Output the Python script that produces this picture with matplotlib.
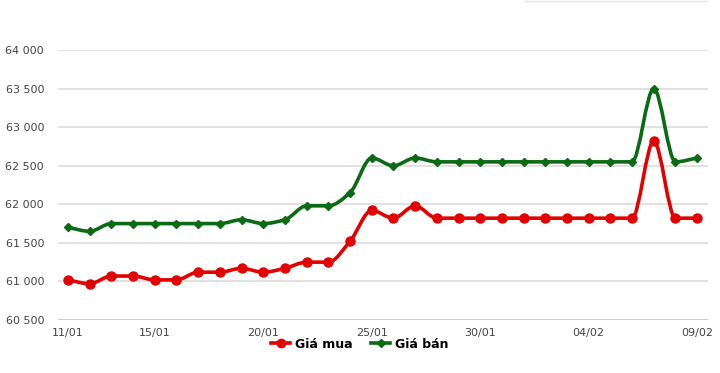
import numpy as np
import matplotlib
matplotlib.use("Agg")
import matplotlib.pyplot as plt
from matplotlib.path import Path
from matplotlib.patches import PathPatch
from matplotlib.lines import Line2D

dates = ["11/01", "12/01", "13/01", "14/01", "15/01", "16/01", "17/01", "18/01", "19/01", "20/01",
         "21/01", "22/01", "23/01", "24/01", "25/01", "26/01", "27/01", "28/01", "29/01", "30/01",
         "31/01", "01/02", "02/02", "03/02", "04/02", "05/02", "06/02", "07/02", "08/02", "09/02"]
gia_mua = [61020, 60970, 61070, 61070, 61020, 61020, 61120, 61120, 61170, 61120,
           61170, 61250, 61250, 61520, 61920, 61820, 61980, 61820, 61820, 61820,
           61820, 61820, 61820, 61820, 61820, 61820, 61820, 62820, 61820, 61820]
gia_ban = [61700, 61650, 61750, 61750, 61750, 61750, 61750, 61750, 61800, 61750,
           61800, 61980, 61980, 62150, 62600, 62500, 62600, 62550, 62550, 62550,
           62550, 62550, 62550, 62550, 62550, 62550, 62550, 63500, 62550, 62600]
tick_labels = ["11/01", "15/01", "20/01", "25/01", "30/01", "04/02", "09/02"]
yticks = [60500, 61000, 61500, 62000, 62500, 63000, 63500, 64000]

RED = "#e30000"
GREEN = "#0a6b14"

fig = plt.figure(figsize=(7.2, 3.73), dpi=100)
ax = fig.add_axes([58/720, 1 - 320/373, (708-58)/720, (320-50)/373])
x = np.arange(len(dates), dtype=float)
ax.set_xlim(-0.46, len(dates) - 1 + 0.5)
ax.set_ylim(60500, 64000)


def smooth_path(xs, ys):
    # monotone cubic (Fritsch-Carlson) tangents -> cubic Bezier path
    xs = np.asarray(xs, float)
    ys = np.asarray(ys, float)
    n = len(xs)
    h = np.diff(xs)
    d = np.diff(ys) / h
    m = np.zeros(n)
    m[0] = d[0]
    m[-1] = d[-1]
    for i in range(1, n - 1):
        if d[i - 1] * d[i] <= 0:
            m[i] = 0.0
        else:
            w1 = 2 * h[i] + h[i - 1]
            w2 = h[i] + 2 * h[i - 1]
            m[i] = (w1 + w2) / (w1 / d[i - 1] + w2 / d[i])
    verts = [(xs[0], ys[0])]
    codes = [Path.MOVETO]
    for i in range(n - 1):
        verts += [(xs[i] + h[i] / 3, ys[i] + m[i] * h[i] / 3),
                  (xs[i + 1] - h[i] / 3, ys[i + 1] - m[i + 1] * h[i] / 3),
                  (xs[i + 1], ys[i + 1])]
        codes += [Path.CURVE4] * 3
    return Path(verts, codes)


for a in ax.spines.values():
    a.set_visible(False)
ax.set_yticks(yticks)
ax.grid(axis="y", color="#dcdcdc", linewidth=1.2)
ax.set_axisbelow(True)
ax.axhline(60500, color="#c0c8d4", linewidth=1.2, zorder=1)
ax.set_yticklabels([f"{v:,}".replace(",", " ") for v in yticks], fontsize=8, color="#444444")
ax.tick_params(axis="y", length=0, pad=10)
ax.set_xticks([dates.index(t) for t in tick_labels])
ax.set_xticklabels(tick_labels, fontsize=8, color="#444444")
ax.tick_params(axis="x", length=0, pad=6)

ax.add_patch(PathPatch(smooth_path(x, gia_mua), facecolor="none", edgecolor=RED, lw=2.6,
                       zorder=3, capstyle="round", joinstyle="round"))
ax.add_patch(PathPatch(smooth_path(x, gia_ban), facecolor="none", edgecolor=GREEN, lw=2.6,
                       zorder=3, capstyle="round", joinstyle="round"))
ax.plot(x, gia_mua, linestyle="none", marker="o", ms=6.5, color=RED, zorder=4)
ax.plot(x, gia_ban, linestyle="none", marker="D", ms=4, color=GREEN, zorder=4)

handles = [Line2D([], [], color=RED, lw=2.6, marker="o", ms=6),
           Line2D([], [], color=GREEN, lw=2.6, marker="D", ms=4)]
fig.legend(handles, ["Giá mua", "Giá bán"], loc="center", bbox_to_anchor=(360/720, 1 - 344/373),
           ncol=2, frameon=False, handlelength=1.5, handletextpad=0.4, columnspacing=1.5,
           prop={"weight": "bold", "size": 9})

fig.add_artist(Line2D([525/720, 707/720], [1 - 1/373, 1 - 1/373], color="#e4e4e4", lw=1.0))

fig.savefig("out.png", dpi=100, facecolor="white")
